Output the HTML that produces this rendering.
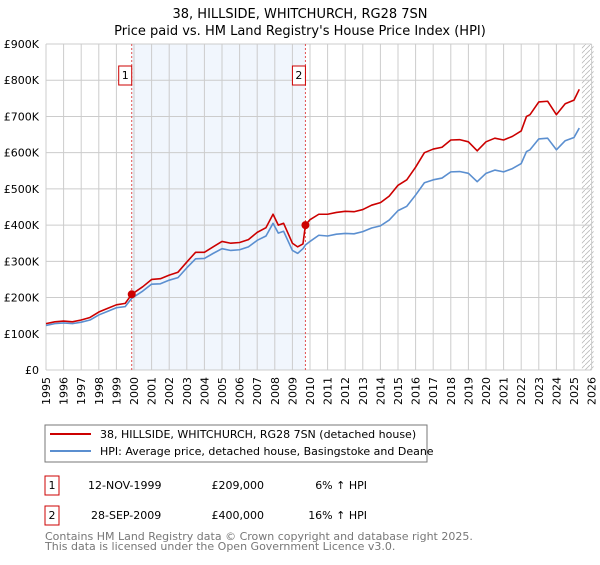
<!DOCTYPE html>
<html><head><meta charset="utf-8"><style>
body{margin:0;background:#fff;font-family:"Liberation Sans","DejaVu Sans",sans-serif}
svg text{font-family:"DejaVu Sans","Liberation Sans",sans-serif}
</style></head><body>
<svg id="c" width="600" height="560" viewBox="0 0 600 560" xmlns="http://www.w3.org/2000/svg">
<text x="300" y="18" text-anchor="middle" font-size="13">38, HILLSIDE, WHITCHURCH, RG28 7SN</text>
<text x="300" y="35" text-anchor="middle" font-size="13">Price paid vs. HM Land Registry's House Price Index (HPI)</text>
<g id="plot"></g>
<rect x="45" y="425" width="382" height="37" fill="#fff" stroke="#777"/>
<line x1="50" y1="434" x2="91" y2="434" stroke="#cc0000" stroke-width="2"/>
<text x="100" y="438" font-size="11">38, HILLSIDE, WHITCHURCH, RG28 7SN (detached house)</text>
<line x1="50" y1="451" x2="91" y2="451" stroke="#5b8fd0" stroke-width="2"/>
<text x="100" y="455" font-size="11">HPI: Average price, detached house, Basingstoke and Deane</text>
<rect x="45" y="476" width="14" height="19" fill="#fff" stroke="#cc0000"/>
<text x="52" y="489" text-anchor="middle" font-size="11">1</text>
<text x="88" y="489" font-size="11">12-NOV-1999</text>
<text x="264" y="489" text-anchor="end" font-size="11">£209,000</text>
<text x="367" y="489" text-anchor="end" font-size="11">6% ↑ HPI</text>
<rect x="45" y="506" width="14" height="19" fill="#fff" stroke="#cc0000"/>
<text x="52" y="519" text-anchor="middle" font-size="11">2</text>
<text x="91" y="519" font-size="11">28-SEP-2009</text>
<text x="264" y="519" text-anchor="end" font-size="11">£400,000</text>
<text x="367" y="519" text-anchor="end" font-size="11">16% ↑ HPI</text>
<text x="45" y="540" font-size="11" fill="#777">Contains HM Land Registry data © Crown copyright and database right 2025.</text>
<text x="45" y="550" font-size="11" fill="#777">This data is licensed under the Open Government Licence v3.0.</text>
</svg>
<script>
const years=[1995,1996,1997,1998,1999,2000,2001,2002,2003,2004,2005,2006,2007,2008,2009,2010,2011,2012,2013,2014,2015,2016,2017,2018,2019,2020,2021,2022,2023,2024,2025,2026];
const yTicks=[0,100,200,300,400,500,600,700,800,900];
const yTickLabels=["£0","£100K","£200K","£300K","£400K","£500K","£600K","£700K","£800K","£900K"];
const propDates=[1995,1995.5,1996,1996.5,1997,1997.5,1998,1998.5,1999,1999.5,1999.87,2000.5,2001,2001.5,2002,2002.5,2003,2003.5,2004,2004.5,2005,2005.5,2006,2006.5,2007,2007.5,2007.9,2008.2,2008.5,2009,2009.3,2009.6,2009.74,2010,2010.5,2011,2011.5,2012,2012.5,2013,2013.5,2014,2014.5,2015,2015.5,2016,2016.5,2017,2017.5,2018,2018.5,2019,2019.5,2020,2020.5,2021,2021.5,2022,2022.3,2022.5,2023,2023.5,2024,2024.5,2025,2025.3];
const propValues=[128,133,135,133,138,145,160,170,180,184,209,230,250,252,262,270,298,325,325,340,355,350,352,360,380,393,430,400,405,350,340,348,400,415,430,430,435,438,437,443,455,462,480,510,525,560,600,610,615,635,636,630,605,630,640,635,645,660,700,705,740,742,705,735,745,775];
const hpiValues=[123,128,130,128,132,138,152,162,172,175,198,218,237,238,248,255,282,307,308,322,335,330,332,340,358,370,405,378,383,330,322,335,345,355,372,370,375,377,376,382,392,398,414,440,452,483,517,525,530,547,548,543,520,543,552,547,556,570,603,608,638,640,608,633,642,668];
const saleDates=[1999.87,2009.74];
const salePrices=[209,400];
const saleLabels=["1","2"];
const X0=46,PX=17.6,Y0=370,PY=0.3622;
const xs=t=>X0+(t-1995)*PX, ys=v=>Y0-v*PY;
const NS="http://www.w3.org/2000/svg",g=document.getElementById('plot');
function mk(tag,attrs,parent){const e=document.createElementNS(NS,tag);for(const k in attrs)e.setAttribute(k,attrs[k]);(parent||g).appendChild(e);return e;}
// shaded region
let sh=mk('rect',{x:xs(saleDates[0]),y:ys(900),width:xs(saleDates[1])-xs(saleDates[0]),height:ys(0)-ys(900),fill:'#eef4fd',opacity:0.8});


// hatch
const defs=mk('defs',{});
const pat=mk('pattern',{id:'h',width:5,height:5,patternUnits:'userSpaceOnUse'},defs);
mk('path',{d:'M0,5 L5,0',stroke:'#bbb','stroke-width':0.8},pat);
let ht=mk('rect',{x:xs(2025.45),y:ys(900),width:xs(2026)-xs(2025.45)+2,height:ys(0)-ys(900),fill:'url(#h)'});


years.forEach(y=>{
  let l=mk('line',{x1:xs(y),x2:xs(y),y1:ys(900),y2:ys(0),stroke:'#ccc','stroke-width':1});
  
  
  let t=mk('text',{x:0,y:0,'font-size':11,'text-anchor':'end',transform:`translate(${xs(y)+4},${ys(0)+7}) rotate(-90)`});
  t.textContent=y;
  
  
});
yTicks.forEach((v,i)=>{
  let l=mk('line',{x1:xs(1995),x2:xs(2026),y1:ys(v),y2:ys(v),stroke:'#ccc','stroke-width':1});
  
  
  let t=mk('text',{x:39,y:ys(v)+4,'font-size':11,'text-anchor':'end'});
  t.textContent=yTickLabels[i];
  
  
});
saleDates.forEach((d,i)=>{
  let l=mk('line',{x1:xs(d),x2:xs(d),y1:ys(900),y2:ys(0),stroke:'#e05050','stroke-width':1,'stroke-dasharray':'2,2'});
  
  
  let b=mk('rect',{x:xs(d)-13,y:66,width:13,height:19,fill:'#fff',stroke:'#cc0000'});
  
  
  let t=mk('text',{x:xs(d)-6.5,y:79,'font-size':11,'text-anchor':'middle'});
  t.textContent=saleLabels[i];
  
  
});
function line(dates,vals,col,name){
  let p=mk('polyline',{points:dates.map((d,i)=>xs(d)+','+ys(vals[i])).join(' '),fill:'none',stroke:col,'stroke-width':1.6,'stroke-linejoin':'round'});
  
  
}
line(propDates,hpiValues,'#5b8fd0','hpi-line');
line(propDates,propValues,'#cc0000','property-line');
saleDates.forEach((d,i)=>{
  let c=mk('circle',{cx:xs(d),cy:ys(salePrices[i]),r:4,fill:'#cc0000'});
  
  
});
</script>
</body></html>
